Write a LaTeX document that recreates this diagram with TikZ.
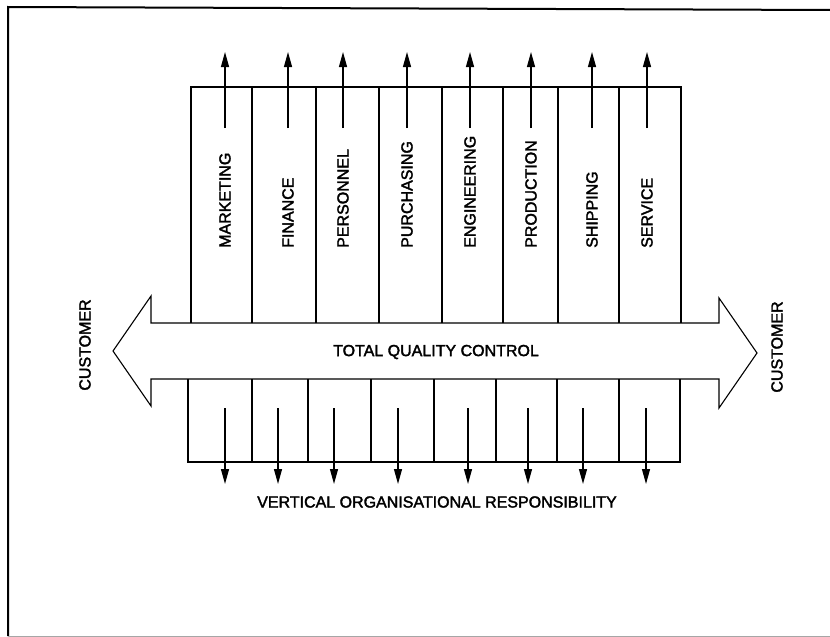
\documentclass[tikz,border=0pt]{standalone}
\usepackage{fontspec}
\setmainfont{Liberation Sans}
\usetikzlibrary{arrows.meta}
% slightly heavier glyphs: fill and stroke the outlines
\newcommand\heavytext[1]{\special{pdf:literal direct 2 Tr 0.35 w}#1\special{pdf:literal direct 0 Tr}}
\begin{document}
\begin{tikzpicture}[x=1pt,y=-1pt,
  line join=miter,
  boxline/.style={draw=black,line width=1.1pt},
  flow/.style={draw=black,line width=1.2pt,-{Triangle[length=15pt,width=8pt]}},
  lbl/.style={font=\fontsize{16}{19}\selectfont,inner sep=0pt,text=black},
  deptlbl/.style={lbl,rotate=90,anchor=west}]
\useasboundingbox (0,0) rectangle (830,637);

% page frame
\draw[line width=2pt] (830,10) -- (8,7) -- (8,636);
\draw[line width=1pt,draw=black!35] (8,636) -- (830,636);

% double-headed arrow of total quality control
\draw[boxline] (113,351) -- (151,296) -- (151,323) -- (719,323) -- (719,298)
  -- (757,353) -- (719,408) -- (719,379) -- (151,379) -- (151,406) -- cycle;
\node[lbl] (tqc) at (436,352) {\heavytext{TOTAL QUALITY CONTROL}};

% upper row of departments
\foreach \l/\r/\ax/\name [count=\i] in
  {191/252/225/MARKETING, 252/316/288/FINANCE, 316/379/343/PERSONNEL,
   379/442/407/PURCHASING, 442/503/470/ENGINEERING, 503/558/531/PRODUCTION,
   558/619/592/SHIPPING, 619/681/647/SERVICE}{
  \draw[boxline] (\l,323) -- (\l,87) -- (\r,87) -- (\r,323);
  \node[deptlbl] (dept\i) at (\ax,248) {\heavytext{\name}};
  \coordinate (up\i a) at (\ax,128);
  \coordinate (up\i b) at (\ax,52);
  \draw[flow] (up\i a) -- (up\i b);
}

% lower row of responsibility boxes
\foreach \l/\r/\ax [count=\i] in
  {188/252/225, 252/308/278, 308/371/334, 371/434/398,
   434/496/468, 496/557/528, 557/619/583, 619/680/646}{
  \draw[boxline] (\l,379) -- (\l,462) -- (\r,462) -- (\r,379);
  \coordinate (dn\i a) at (\ax,408);
  \coordinate (dn\i b) at (\ax,484);
  \draw[flow] (dn\i a) -- (dn\i b);
}
\node[lbl] (vor) at (437,502) {\heavytext{VERTICAL ORGANISATIONAL RESPONSIBILITY}};

% customers at both ends
\node[lbl,rotate=90] (custL) at (85,345) {\heavytext{CUSTOMER}};
\node[lbl,rotate=90] (custR) at (777,347) {\heavytext{CUSTOMER}};
\end{tikzpicture}
\end{document}
